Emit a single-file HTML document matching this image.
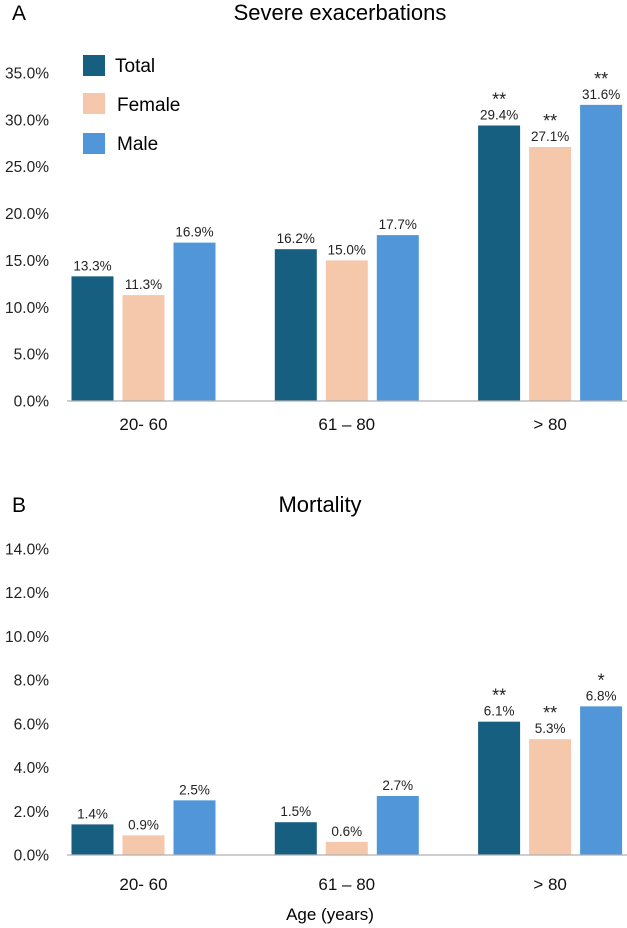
<!DOCTYPE html>
<html><head><meta charset="utf-8"><style>
html,body{margin:0;padding:0;background:#fff;width:627px;height:928px;overflow:hidden}
svg{display:block;font-family:"Liberation Sans",Arial,sans-serif}
</style></head><body>
<svg id="chart" width="627" height="928">
<text x="12" y="20" font-size="21">A</text>
<text x="340" y="20" font-size="22" text-anchor="middle">Severe exacerbations</text>
<text x="12" y="512" font-size="21">B</text>
<text x="320" y="512" font-size="22" text-anchor="middle">Mortality</text>
<g>
<rect x="83" y="55" width="22" height="21" fill="#175f80"/>
<text x="115" y="72" font-size="19">Total</text>
<rect x="83" y="93" width="22" height="21" fill="#f5c7ab"/>
<text x="117" y="111" font-size="19">Female</text>
<rect x="83" y="133" width="22" height="21" fill="#5096d9"/>
<text x="117" y="150" font-size="19">Male</text>
</g>
<text x="330" y="920" font-size="17" text-anchor="middle">Age (years)</text>
</svg>
<script>
const categories = ["20- 60", "61 \u2013 80", "> 80"];
const seriesNames = ["Total", "Female", "Male"];
const colors = ["#175f80", "#f5c7ab", "#5096d9"];
const exacTotal = [13.3, 16.2, 29.4];
const exacFemale = [11.3, 15.0, 27.1];
const exacMale = [16.9, 17.7, 31.6];
const exacStars = [["","",""],["","",""],["**","**","**"]];
const exacTicks = [0,5,10,15,20,25,30,35];
const mortTotal = [1.4, 1.5, 6.1];
const mortFemale = [0.9, 0.6, 5.3];
const mortMale = [2.5, 2.7, 6.8];
const mortStars = [["","",""],["","",""],["**","**","*"]];
const mortTicks = [0,2,4,6,8,10,12,14];

const svg = document.getElementById('chart');
const NS = 'http://www.w3.org/2000/svg';
function mk(tag, attrs){const e=document.createElementNS(NS,tag);for(const k in attrs)e.setAttribute(k,attrs[k]);svg.appendChild(e);return e;}
function xCenter(i){return 143.5 + i*203.3;}
function panel(key, base, top, maxV, ticks, series, stars, xlabY){
  const y = v => base - (v/maxV)*(base-top);
  ticks.forEach(t=>{
    const e = mk('text',{x:49,y:y(t)+5.5,'font-size':15.5,'text-anchor':'end',fill:'#222'});
    e.textContent = t.toFixed(1)+'%';
    
    
  });
  categories.forEach((c,i)=>{
    series.forEach((s,j)=>{
      const cx = xCenter(i) + (j-1)*51;
      const v = s[i];
      const r = mk('rect',{x:cx-21,y:y(v),width:42,height:base-y(v),fill:colors[j]});
      
      
      const t = mk('text',{x:cx,y:y(v)-6,'font-size':13.5,'text-anchor':'middle',fill:'#222'});
      t.textContent = v.toFixed(1)+'%';
      
      
      if(stars[i][j]){
        const st = mk('text',{x:cx,y:y(v)-20,'font-size':18,'text-anchor':'middle',fill:'#222'});
        st.textContent = stars[i][j];
        
        
      }
    });
    const l = mk('text',{x:xCenter(i),y:xlabY,'font-size':17,'text-anchor':'middle',fill:'#111'});
    l.textContent = c;
    
    
  });
  const ax = mk('line',{x1:67,y1:base,x2:627,y2:base,stroke:'#b0b0b0','stroke-width':1.2});
  
  
}
panel('exac', 401, 73, 35, exacTicks, [exacTotal,exacFemale,exacMale], exacStars, 430);
panel('mort', 855, 549, 14, mortTicks, [mortTotal,mortFemale,mortMale], mortStars, 890);
</script>
</body></html>
